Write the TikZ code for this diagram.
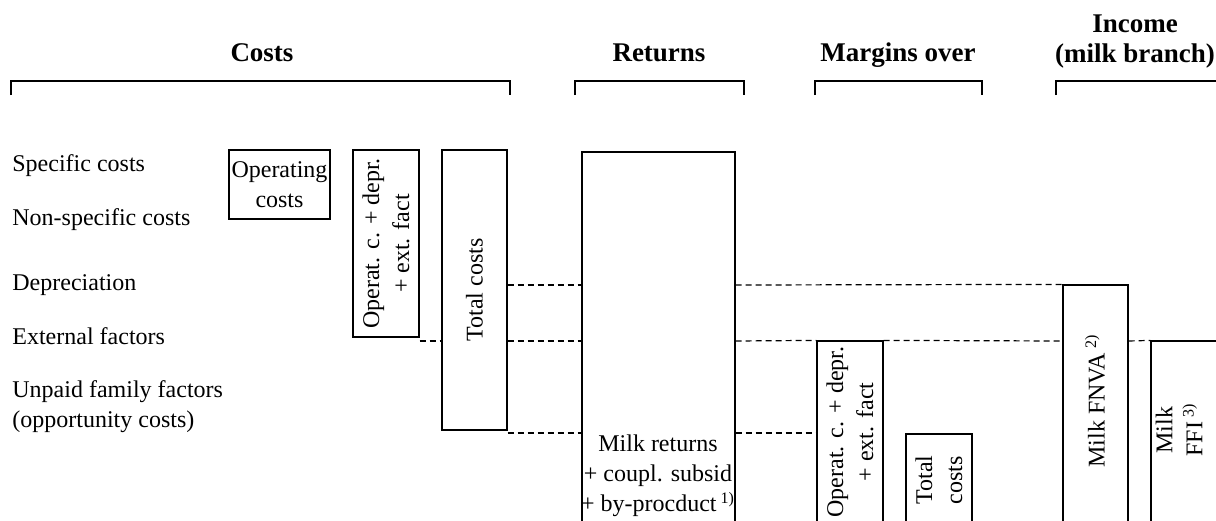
\documentclass[tikz,border=0pt]{standalone}
\usepackage{fontspec}
\setmainfont{Liberation Serif}
\usetikzlibrary{fit}
\begin{document}
\begin{tikzpicture}[x=0.5pt,y=-0.5pt,
  box/.style={draw, line width=0.6pt, inner sep=0pt},
  dashline/.style={draw, line width=0.6pt, dash pattern=on 3pt off 2pt},
  bracket/.style={draw, line width=0.9pt},
  title/.style={font=\fontsize{13.5}{15}\selectfont\bfseries, align=center, inner sep=0pt},
  lbl/.style={font=\fontsize{12}{15}\selectfont, align=left, inner sep=0pt},
  txt/.style={font=\fontsize{12}{15}\selectfont, align=center, inner sep=0pt}]
\clip (0,0) rectangle (1216,520);

% titles
\node[title, anchor=base] (tcosts) at (262,61) {Costs};
\node[title, anchor=base] (tret) at (659,61) {Returns};
\node[title, anchor=base] (tmarg) at (898,61) {Margins over};
\node[title, anchor=south] (tinc) at (1135,69) {Income\\(milk branch)};

% brackets
\draw[bracket] (11,95) -- (11,81) -- (510,81) -- (510,95);
\draw[bracket] (575,95) -- (575,81) -- (744,81) -- (744,95);
\draw[bracket] (815,95) -- (815,81) -- (982,81) -- (982,95);
\draw[bracket] (1056,95) -- (1056,81) -- (1230,81);

% row labels
\node[lbl, anchor=base west] (l1) at (12,171) {Specific costs};
\node[lbl, anchor=base west] (l2) at (12,225) {Non-specific costs};
\node[lbl, anchor=base west] (l3) at (12,290) {Depreciation};
\node[lbl, anchor=base west] (l4) at (12,344) {External factors};
\node[lbl, anchor=north west] (l5) at (12,380) {Unpaid family factors\\(opportunity costs)};

% level coordinates
\coordinate (ydep) at (0,285);
\coordinate (yext) at (0,341);
\coordinate (yunp) at (0,433);

% boxes
\node[box, fit={(229,150) (330,219)}] (opc) {};
\node[box, fit={(353,150) (419,337)}] (ocd) {};
\node[box, fit={(442,150) (507,430)}] (tc) {};
\node[box, fit={(582,152) (735,530)}] (mr) {};
\node[box, fit={(817,341) (883,530)}] (mo) {};
\node[box, fit={(906,434) (972,530)}] (mt) {};
\node[box, fit={(1063,285) (1128,530)}] (fnva) {};
\node[box, fit={(1151,341) (1230,530)}] (ffi) {};

% box texts
\node[txt] (opct) at (opc.center) {Operating\\costs};
\node[txt, rotate=90] (ocdt) at (ocd.center) {Operat. c. + depr.\\+ ext. fact};
\node[txt, rotate=90] (tct) at (tc.center) {Total costs};
\node[txt] (mrt) at (658,476) {Milk returns\\+ coupl. subsid\\+ by-procduct\,\textsuperscript{1)}};
\node[txt, rotate=90] (mot) at (850,432) {Operat. c. + depr.\\+ ext. fact};
\node[txt, rotate=90] (mtt) at (939,480) {Total\\costs};
\node[txt, rotate=90] (fnvat) at (1095,401) {Milk FNVA\,\textsuperscript{2)}};
\node[txt, rotate=90] (ffit) at (1179,430) {Milk\\FFI\,\textsuperscript{3)}};

% dashed level lines
\draw[dashline] (tc.east |- ydep) -- (mr.west |- ydep);
\draw[dashline] (mr.east |- ydep) -- (fnva.north west);
\draw[dashline] (ocd.east |- yext) -- (tc.west |- yext);
\draw[dashline] (tc.east |- yext) -- (mr.west |- yext);
\draw[dashline] (mr.east |- yext) -- (mo.north west);
\draw[dashline] (mo.north east) -- (fnva.west |- yext);
\draw[dashline] (fnva.east |- yext) -- (ffi.north west);
\draw[dashline] (tc.east |- yunp) -- (mr.west |- yunp);
\draw[dashline] (mr.east |- yunp) -- (mo.west |- yunp);
\end{tikzpicture}
\end{document}
